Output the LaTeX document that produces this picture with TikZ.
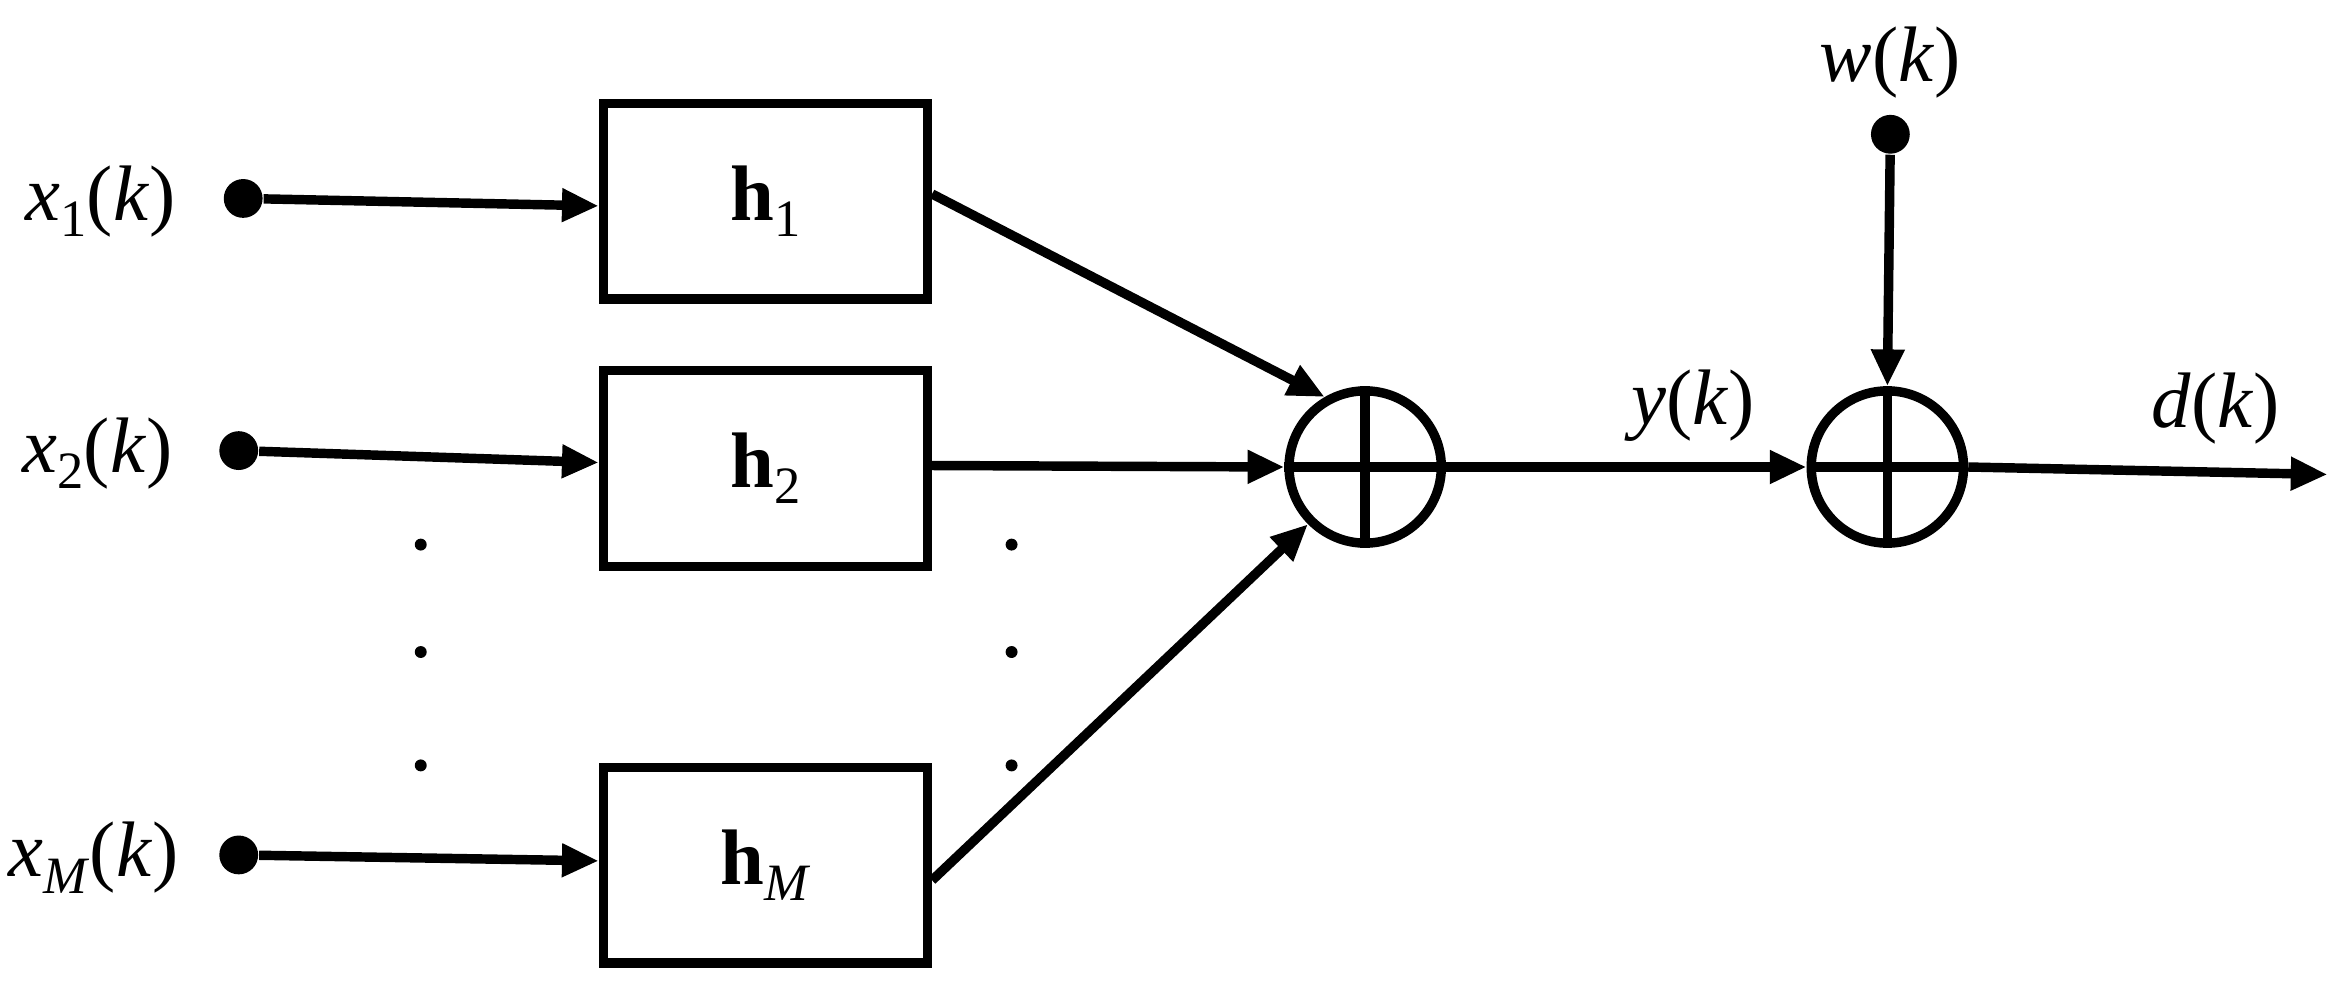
\documentclass[tikz,border=0pt]{standalone}
\usepackage{fontspec}
\setmainfont{Liberation Serif}
\usetikzlibrary{arrows.meta}
\newcommand{\lowsub}[1]{\raisebox{-0.45ex}{\fontsize{10}{12}\selectfont #1}}
\begin{document}
\begin{tikzpicture}[x=0.01cm,y=-0.01cm,
  ln/.style={line width=1.8pt},
  arr/.style={ln,-{Triangle[length=7pt,width=6pt]}},
  box/.style={draw,line width=1.8pt,minimum width=2.17cm,minimum height=1.31cm,font=\fontsize{15}{18}\selectfont},
  sum/.style={draw,circle,line width=1.8pt,minimum size=1.02cm,inner sep=0pt},
  dot/.style={circle,fill,inner sep=0pt,minimum size=0.26cm},
  sdot/.style={circle,fill,inner sep=0pt,minimum size=0.08cm},
  lab/.style={font=\fontsize{15}{18}\selectfont}]
\useasboundingbox (0,0) rectangle (1563,660);
\node[box] (h1) at (513,135) {\textbf{h}\lowsub{1}};
\node[box] (h2) at (513,314) {\textbf{h}\lowsub{2}};
\node[box] (hM) at (513,580) {\textbf{h}\lowsub{\textit{M}}};
\node[sum] (s1) at (915,313) {};
\node[sum] (s2) at (1265,313) {};
\draw[ln] (s1.north) -- (s1.south) (s1.west) -- (s1.east);
\draw[ln] (s2.north) -- (s2.south) (s2.west) -- (s2.east);
\node[dot] (x1) at (163,133) {};
\node[dot] (x2) at (160,302) {};
\node[dot] (xM) at (160,573) {};
\node[dot] (w) at (1267,90) {};
\node[lab,anchor=east] at (130,135) {\textit{x}\lowsub{1}(\textit{k})};
\node[lab,anchor=east] at (128,304) {\textit{x}\lowsub{2}(\textit{k})};
\node[lab,anchor=east] at (132,575) {\textit{x}\lowsub{\textit{M}}(\textit{k})};
\node[lab] at (1267,42) {\textit{w}(\textit{k})};
\node[lab] at (1135,272) {\textit{y}(\textit{k})};
\node[lab] at (1485,274) {\textit{d}(\textit{k})};
\coordinate (out) at (1560,318);
\draw[arr] (x1) -- (h1.west|-0,138);
\draw[arr] (x2) -- (h2.west|-0,310);
\draw[arr] (xM) -- (hM.west|-0,577);
\draw[arr] (h1.east|-0,130) -- (s1.120);
\draw[arr] (h2.east|-0,312) -- (s1.west);
\draw[arr] (hM.east|-0,590) -- (s1.225);
\draw[arr] (s1.east) -- (s2.west);
\draw[arr] (w) -- (s2.north);
\draw[arr] (s2.east) -- (out);
\foreach \y in {365,437,513}{
  \node[sdot] at (282,\y) {};
  \node[sdot] at (678,\y) {};
}
\end{tikzpicture}
\end{document}
